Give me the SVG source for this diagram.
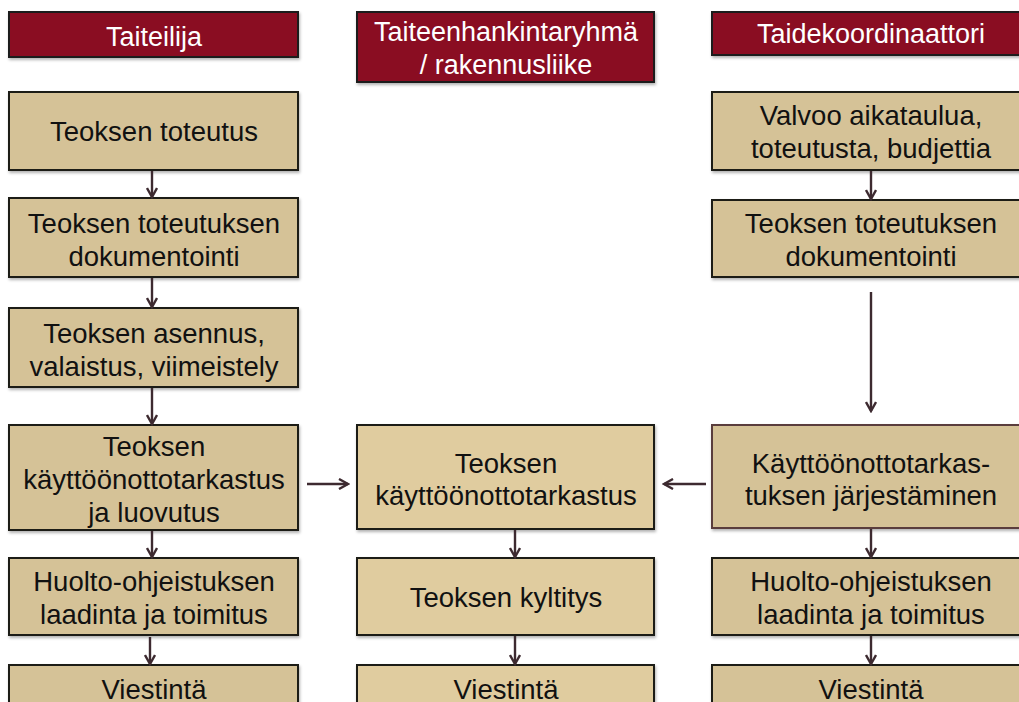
<svg xmlns="http://www.w3.org/2000/svg" width="1019" height="702" viewBox="0 0 1019 702">
<defs>
<filter id="sh" x="-5%" y="-5%" width="110%" height="120%">
<feDropShadow dx="1" dy="2" stdDeviation="1.5" flood-color="#000" flood-opacity="0.3"/>
</filter>
<marker id="ah" viewBox="0 0 12 12" refX="10" refY="6" markerWidth="12" markerHeight="12" markerUnits="userSpaceOnUse" orient="auto">
<path d="M1,1 L10,6 L1,11" fill="none" stroke="#3d2a30" stroke-width="2.4"/>
</marker>
<style>
.hdr{fill:#8a1024;stroke:#1a1a1a;stroke-width:2;filter:url(#sh)}
.box{fill:#d5c297;stroke:#1e1a18;stroke-width:2;filter:url(#sh)}
.mid{fill:#e0cc9f}
.brn{stroke:#5a3c3c}
.ht{font-family:"Liberation Sans",Arial,sans-serif;font-size:27px;fill:#fff;text-anchor:middle}
.bt{font-family:"Liberation Sans",Arial,sans-serif;font-size:27.5px;fill:#111;text-anchor:middle}
.c line{stroke:#3d2a30;stroke-width:2.4;marker-end:url(#ah)}
</style>
</defs>
<rect width="1019" height="702" fill="#fff"/>

<g id="h1"><rect class="hdr" x="9" y="12" width="289" height="45"/><text class="ht" x="154" y="46" font-size="32">Taiteilija</text></g>
<g id="h2"><rect class="hdr" x="357" y="12" width="297" height="70"/><text class="ht" x="506" y="41">Taiteenhankintaryhmä</text><text class="ht" x="506" y="74">/ rakennusliike</text></g>
<g id="h3"><rect class="hdr" x="712" y="12" width="320" height="43"/><text class="ht" x="871" y="43">Taidekoordinaattori</text></g>

<g id="l1"><rect class="box" x="9" y="92" width="289" height="78"/><text class="bt" x="154" y="141">Teoksen toteutus</text></g>
<g id="l2"><rect class="box" x="9" y="198" width="289" height="79"/><text class="bt" x="154" y="233">Teoksen toteutuksen</text><text class="bt" x="154" y="266">dokumentointi</text></g>
<g id="l3"><rect class="box" x="9" y="308" width="289" height="79"/><text class="bt" x="154" y="343">Teoksen asennus,</text><text class="bt" x="154" y="376">valaistus, viimeistely</text></g>
<g id="l4"><rect class="box" x="9" y="425" width="289" height="105"/><text class="bt" x="154" y="456">Teoksen</text><text class="bt" x="154" y="489">käyttöönottotarkastus</text><text class="bt" x="154" y="522">ja luovutus</text></g>
<g id="l5"><rect class="box" x="9" y="558" width="289" height="77"/><text class="bt" x="154" y="591">Huolto-ohjeistuksen</text><text class="bt" x="154" y="624">laadinta ja toimitus</text></g>
<g id="l6"><rect class="box" x="9" y="665" width="289" height="60"/><text class="bt" x="154" y="699">Viestintä</text></g>

<g id="m1"><rect class="box mid" x="357" y="425" width="297" height="104"/><text class="bt" x="506" y="473">Teoksen</text><text class="bt" x="506" y="505">käyttöönottotarkastus</text></g>
<g id="m2"><rect class="box mid" x="357" y="558" width="297" height="77"/><text class="bt" x="506" y="607">Teoksen kyltitys</text></g>
<g id="m3"><rect class="box mid" x="357" y="665" width="297" height="60"/><text class="bt" x="506" y="699">Viestintä</text></g>

<g id="r1"><rect class="box" x="712" y="92" width="320" height="78"/><text class="bt" x="871" y="125">Valvoo aikataulua,</text><text class="bt" x="871" y="158">toteutusta, budjettia</text></g>
<g id="r2"><rect class="box" x="712" y="200" width="320" height="77"/><text class="bt" x="871" y="233">Teoksen toteutuksen</text><text class="bt" x="871" y="266">dokumentointi</text></g>
<g id="r3"><rect class="box brn" x="712" y="425" width="320" height="103"/><text class="bt" x="871" y="473">Käyttöönottotarkas-</text><text class="bt" x="871" y="505">tuksen järjestäminen</text></g>
<g id="r4"><rect class="box" x="712" y="558" width="320" height="77"/><text class="bt" x="871" y="591">Huolto-ohjeistuksen</text><text class="bt" x="871" y="624">laadinta ja toimitus</text></g>
<g id="r5"><rect class="box" x="712" y="665" width="320" height="60"/><text class="bt" x="871" y="699">Viestintä</text></g>

<g class="c" id="connectors">
<line x1="152" y1="171" x2="152" y2="197"/>
<line x1="152" y1="278" x2="152" y2="307"/>
<line x1="152" y1="388" x2="152" y2="424"/>
<line x1="152" y1="531" x2="152" y2="557"/>
<line x1="150" y1="637" x2="150" y2="664"/>
<line x1="515" y1="530" x2="515" y2="557"/>
<line x1="515" y1="636" x2="515" y2="664"/>
<line x1="871" y1="171" x2="871" y2="199"/>
<line x1="871" y1="292" x2="871" y2="411"/>
<line x1="871" y1="529" x2="871" y2="557"/>
<line x1="871" y1="636" x2="871" y2="664"/>
<line x1="307" y1="484" x2="348" y2="484"/>
<line x1="706" y1="484" x2="664" y2="484"/>
</g>
</svg>
